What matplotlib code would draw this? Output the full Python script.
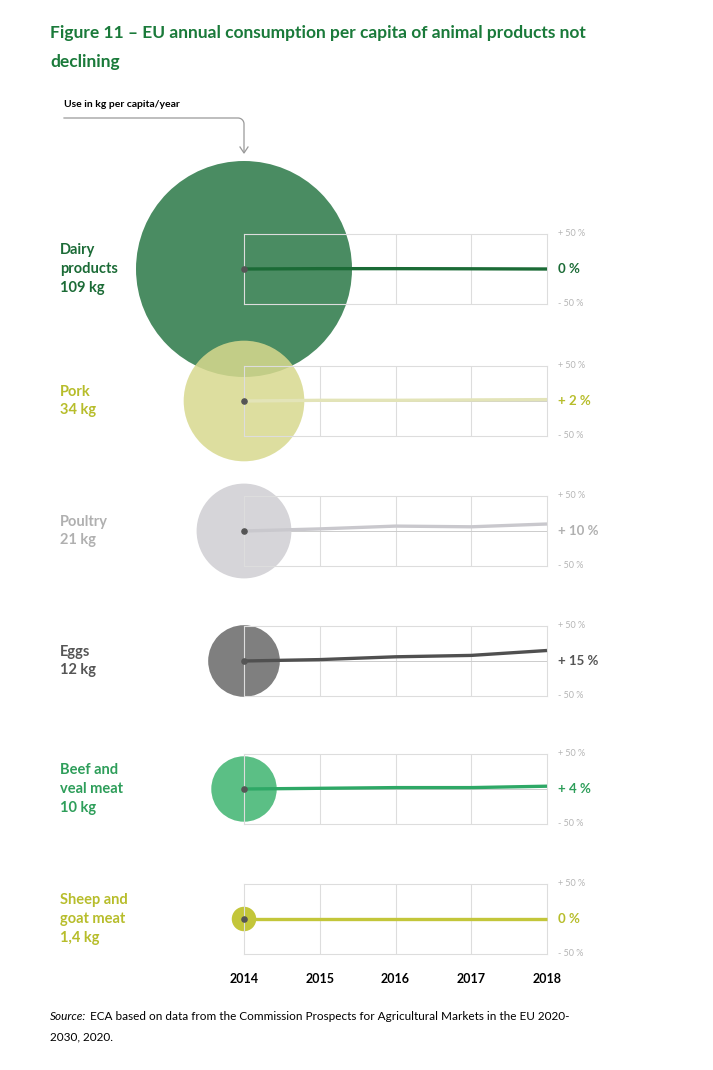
import numpy as np
import matplotlib.pyplot as plt

plt.rcParams['font.family'] = ['Lato', 'DejaVu Sans']

years = [2014, 2015, 2016, 2017, 2018]
names = ['Dairy\nproducts\n109 kg', 'Pork\n34 kg', 'Poultry\n21 kg', 'Eggs\n12 kg',
         'Beef and\nveal meat\n10 kg', 'Sheep and\ngoat meat\n1,4 kg']
kg = [109, 34, 21, 12, 10, 1.4]
change = [
    [0, 0.5, 0.5, 0.3, 0],
    [0, 1, 1, 1.5, 2],
    [0, 3, 7, 6, 10],
    [0, 2, 6, 8, 15],
    [0, 1, 2, 2, 4],
    [0, 0, 0, 0, 0],
]
end_labels = ['0 %', '+ 2 %', '+ 10 %', '+ 15 %', '+ 4 %', '0 %']
circle_col = ['#4a8c62', '#d8d98e', '#d6d5d9', '#7f7f7f', '#5bbf85', '#c3c63a']
circle_alpha = [1, 0.85, 1, 1, 1, 1]
line_col = ['#1b6b36', '#e3e4b8', '#c9c8cd', '#505050', '#2ea866', '#c3c63a']
text_col = ['#1b6b36', '#b7bd2b', '#b0b0b0', '#555555', '#2e9e5a', '#b7bd2b']
row_y = [269, 401, 531, 661, 789, 919]

W, H = 713, 1070
fig = plt.figure(figsize=(W / 100, H / 100), dpi=100)

x0, x1 = 244, 547
half = 35
for i in range(len(kg)):
    ax = fig.add_axes([x0 / W, (H - row_y[i] - half) / H, (x1 - x0) / W, 2 * half / H])
    ax.set_xlim(2014, 2018)
    ax.set_ylim(-50, 50)
    ax.patch.set_alpha(0)
    for s in ax.spines.values():
        s.set_color('#dddddd')
        s.set_linewidth(0.8)
    for yr in years[1:-1]:
        ax.axvline(yr, color='#dddddd', lw=0.8, zorder=1)
    ax.axhline(0, color='#cccccc', lw=0.7, zorder=1)
    r = 108 * np.sqrt(kg[i] / 109)
    d_pt = 2 * r * 0.72
    ax.scatter([2014], [0], s=d_pt ** 2, color=circle_col[i], alpha=circle_alpha[i],
               edgecolors='none', clip_on=False, zorder=2)
    ax.plot(years, change[i], color=line_col[i], lw=2.4, zorder=3, clip_on=False,
            solid_capstyle='butt')
    ax.scatter([2014], [0], s=14, color='#555555', zorder=4, clip_on=False)
    ax.set_xticks([])
    ax.set_yticks([])
    ax.text(1.035, 1, '+ 50 %', transform=ax.transAxes, fontsize=6.5, color='#b5b5b5',
            va='center')
    ax.text(1.035, 0, '- 50 %', transform=ax.transAxes, fontsize=6.5, color='#b5b5b5',
            va='center')
    ax.text(1.035, 0.5 + change[i][-1] / 100 * 0, end_labels[i], transform=ax.transAxes,
            fontsize=9.5, color=text_col[i], fontweight='bold', va='center')
    fig.text(60 / W, 1 - row_y[i] / H, names[i], fontsize=10.5, color=text_col[i],
             fontweight='bold', va='center', ha='left', linespacing=1.45)
    if i == len(kg) - 1:
        ax.set_xticks(years)
        ax.set_xticklabels([str(y) for y in years], fontsize=9, fontweight='bold')
        ax.tick_params(length=0, pad=14)

# annotation overlay in pixel coordinates
ov = fig.add_axes([0, 0, 1, 1])
ov.set_xlim(0, W)
ov.set_ylim(H, 0)
ov.axis('off')
ov.patch.set_alpha(0)
fig.text(50 / W, 1 - 33 / H, 'Figure 11 – EU annual consumption per capita of animal products not',
         fontsize=12.5, fontweight='bold', color='#1a7a3a', va='center')
fig.text(50 / W, 1 - 62 / H, 'declining', fontsize=12.5, fontweight='bold', color='#1a7a3a',
         va='center')
fig.text(64 / W, 1 - 104 / H, 'Use in kg per capita/year', fontsize=7.5, fontweight='bold',
         va='center')
t = np.linspace(0, np.pi / 2, 20)
ax_x = list(np.linspace(64, 238, 2)) + list(238 + 6 * np.sin(t)) + [244, 244]
ax_y = [118, 118] + list(124 - 6 * np.cos(t)) + [124, 152]
ov.plot(ax_x, ax_y, color='#999999', lw=0.9)
ov.plot([240, 244, 248], [147, 153, 147], color='#999999', lw=0.9)

fig.text(50 / W, 1 - 1017 / H, 'Source:', fontsize=8.5, style='italic', va='center')
fig.text(90 / W, 1 - 1017 / H,
         'ECA based on data from the Commission Prospects for Agricultural Markets in the EU 2020-',
         fontsize=8.5, va='center')
fig.text(50 / W, 1 - 1037 / H, '2030, 2020.', fontsize=8.5, va='center')

fig.savefig('out.png', dpi=100)
